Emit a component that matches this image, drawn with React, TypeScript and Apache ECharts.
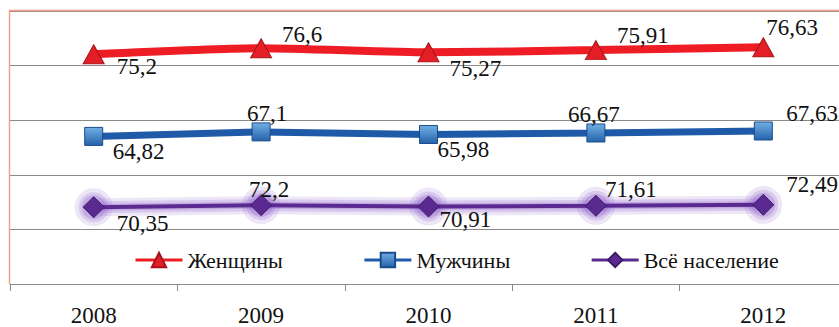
import React, { useEffect, useRef } from "react";
import * as echarts from "echarts";

// Ожидаемая продолжительность жизни, лет
const years = ["2008", "2009", "2010", "2011", "2012"];
const women = [75.2, 76.6, 75.27, 75.91, 76.63];
const men = [64.82, 67.1, 65.98, 66.67, 67.63];
const total = [70.35, 72.2, 70.91, 71.61, 72.49];

const seriesNames = ["Женщины", "Мужчины", "Всё население"];

// Label offsets from each marker (dx, dy), per year
const womenLabelOffsets = [[23, 12], [21, -14], [21, 16], [21, -15], [3, -20]];
const menLabelOffsets = [[19, 15], [-14, -18], [9, 15], [-28, -18], [23, -17]];
const totalLabelOffsets = [[23, 16], [-12, -16], [11, 13], [9, -16], [23, -20]];

const FONT = "Liberation Serif";

const fmt = (p: any) => String(p.value).replace(".", ",");

function withLabels(values: number[], offsets: number[][]) {
  return values.map((v, i) => ({
    value: v,
    label: { offset: offsets[i] },
  }));
}

const baseLabel = {
  show: true,
  position: "inside",
  align: "left",
  verticalAlign: "middle",
  fontFamily: FONT,
  fontSize: 23,
  color: "#111",
  formatter: fmt,
};

// soft halo layers under the whole-population line
const haloLayers = [
  { width: 18, alpha: 0.16, size: 38 },
  { width: 12, alpha: 0.22, size: 30 },
  { width: 7, alpha: 0.3, size: 24 },
];

export default function App() {
  const ref = useRef<HTMLDivElement>(null);

  useEffect(() => {
    if (!ref.current) return;
    const chart = echarts.init(ref.current, undefined, { renderer: "svg" });

    const halos = haloLayers.map((h, i) => {
      const c = `rgba(145, 100, 205, ${h.alpha})`;
      return {
        name: "halo" + i,
        type: "line",
        stack: "halo" + i,
        silent: true,
        data: total,
        symbol: "circle",
        symbolSize: h.size,
        lineStyle: { color: c, width: h.width },
        itemStyle: { color: c },
        label: { show: false },
        z: 1,
      };
    });

    chart.setOption({
      animation: false,
      backgroundColor: "#fff",
      textStyle: { fontFamily: FONT },
      grid: { left: 10, right: 0, top: 11, bottom: 43, containLabel: false },
      xAxis: {
        type: "category",
        data: years,
        boundaryGap: true,
        axisLine: { lineStyle: { color: "#8a8a8a", width: 1 } },
        axisTick: { show: true, length: 7, lineStyle: { color: "#8a8a8a" } },
        axisLabel: { fontFamily: FONT, fontSize: 23, color: "#111", margin: 20 },
      },
      yAxis: {
        type: "value",
        min: 0,
        max: 250,
        interval: 50,
        axisLabel: { show: false },
        axisLine: { show: false },
        axisTick: { show: false },
        splitLine: { lineStyle: { color: "#8a8a8a", width: 1 } },
      },
      legend: {
        left: 129,
        top: 244,
        itemWidth: 47,
        itemHeight: 18,
        itemGap: 80,
        textStyle: { fontFamily: FONT, fontSize: 22, color: "#111" },
        data: [
          { name: seriesNames[0], lineStyle: { width: 3 } },
          { name: seriesNames[1], lineStyle: { width: 3 } },
          { name: seriesNames[2], lineStyle: { width: 3 } },
        ],
      },
      graphic: [
        {
          type: "polyline",
          z: 100,
          shape: { points: [[9.5, 284], [9.5, 10.5], [900, 10.5]] },
          style: { stroke: "#F4A086", lineWidth: 1.5, fill: "none" },
        },
      ],
      series: [
        ...halos,
        {
          name: seriesNames[2],
          type: "line",
          stack: "total",
          data: withLabels(total, totalLabelOffsets),
          symbol: "diamond",
          symbolSize: 21,
          lineStyle: { color: "#5A2A90", width: 4 },
          itemStyle: {
            color: "#5A2A90",
            borderColor: "#3E1B68",
            borderWidth: 1,
          },
          label: baseLabel,
          z: 3,
        },
        {
          name: seriesNames[1],
          type: "line",
          stack: "total",
          data: withLabels(men, menLabelOffsets),
          symbol: "rect",
          symbolSize: 18,
          lineStyle: { color: "#1F5AA8", width: 7 },
          itemStyle: {
            color: {
              type: "linear",
              x: 0,
              y: 0,
              x2: 0,
              y2: 1,
              colorStops: [
                { offset: 0, color: "#73AEE3" },
                { offset: 1, color: "#2463AC" },
              ],
            },
            borderColor: "#1A4C8C",
            borderWidth: 1,
          },
          label: baseLabel,
          z: 4,
        },
        {
          name: seriesNames[0],
          type: "line",
          stack: "total",
          smooth: 0.2,
          data: withLabels(women, womenLabelOffsets),
          symbol: "triangle",
          symbolSize: [21, 19],
          lineStyle: { color: "#EE1C25", width: 8 },
          itemStyle: {
            color: "#E41E26",
            borderColor: "#A8141A",
            borderWidth: 1,
          },
          label: baseLabel,
          z: 5,
        },
      ],
    });
    return () => chart.dispose();
  }, []);

  return (
    <div
      style={{
        position: "absolute",
        left: 0,
        top: 0,
        width: 839,
        height: 327,
        overflow: "hidden",
        background: "#fff",
      }}
    >
      <div ref={ref} style={{ width: 847, height: 327 }} />
    </div>
  );
}
